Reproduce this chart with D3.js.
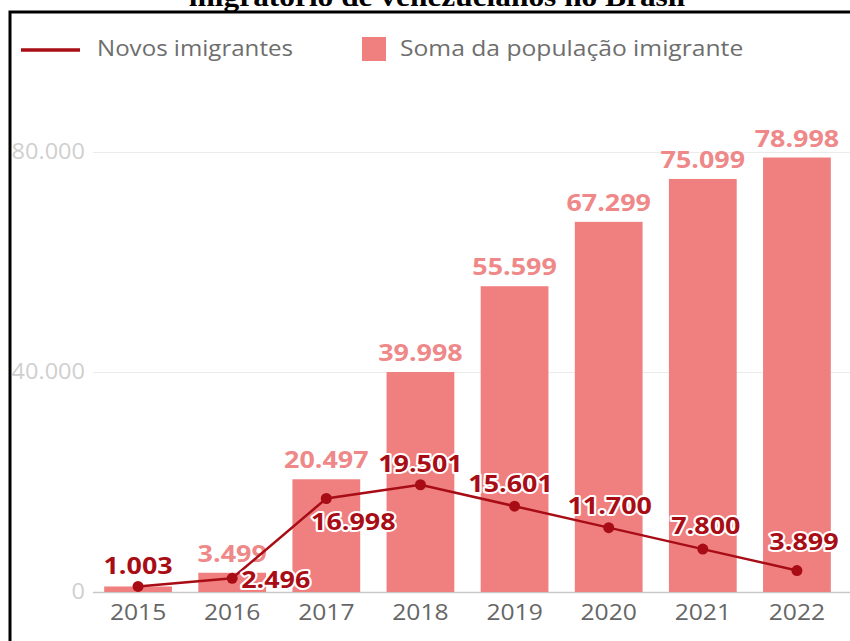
<!DOCTYPE html>
<html lang="pt">
<head>
  <meta charset="UTF-8">
  <title>Fluxo migratório de venezuelanos no Brasil</title>
  <script src="https://d3js.org/d3.v7.min.js"></script>
  <style>
    html, body { margin: 0; padding: 0; background: #fff; }
    svg { display: block; font-family: "Open Sans", sans-serif; }
    .title { font-family: "Liberation Serif", "Times New Roman", serif; font-weight: bold; }
    .halo { paint-order: stroke; stroke: #fff; stroke-width: 4px; stroke-linejoin: round; }
  </style>
</head>
<body>
  <svg id="chart" width="850" height="641"></svg>

  <script>
    // data
    const years = ["2015", "2016", "2017", "2018", "2019", "2020", "2021", "2022"];
    const totalPop = [1003, 3499, 20497, 39998, 55599, 67299, 75099, 78998];
    const newImmigrants = [1003, 2496, 16998, 19501, 15601, 11700, 7800, 3899];
    const yTicks = [0, 40000, 80000];

    const svg = d3.select("#chart"),
          width = +svg.attr("width"),
          height = +svg.attr("height");

    const fmt = v => d3.format(",")(v).replace(/,/g, ".");

    const barColor = "#f08080",
          barLabelColor = "#ef8888",
          lineColor = "#a80d16";

    // the screenshot is a bit wider than tall, so widen the glyphs a little
    function stretch(sel, k = 1.12) {
      sel.each(function() {
        const len = this.getComputedTextLength();
        this.setAttribute("textLength", len * k);
        this.setAttribute("lengthAdjust", "spacingAndGlyphs");
      });
    }

    // scales
    const x = d3.scaleBand()
                .domain(years)
                .range([91, 844])
                .paddingInner(0.28)
                .paddingOuter(0.14);

    const y = d3.scaleLinear()
                .domain([0, 80000])
                .range([592, 152]);

    // title (cut off at the top like in the screenshot)
    svg.append("text")
       .attr("class", "title")
       .attr("x", 437)
       .attr("y", 6)
       .attr("text-anchor", "middle")
       .style("font-size", "28px")
       .text("migratório de venezuelanos no Brasil")
       .call(stretch);

    // frame
    svg.append("path")
       .attr("d", `M10,${height} V12 H${width}`)
       .attr("fill", "none")
       .attr("stroke", "#000")
       .attr("stroke-width", 3);

    // legend
    const legend = svg.append("g");
    legend.append("line")
          .attr("x1", 21).attr("x2", 80)
          .attr("y1", 50).attr("y2", 50)
          .attr("stroke", lineColor)
          .attr("stroke-width", 3.5);
    legend.append("text")
          .attr("x", 97).attr("y", 56)
          .attr("fill", "#6e6e6e")
          .style("font-size", "21.5px")
          .text("Novos imigrantes")
          .call(stretch);
    legend.append("rect")
          .attr("x", 362).attr("y", 37)
          .attr("width", 24).attr("height", 24)
          .attr("fill", barColor);
    legend.append("text")
          .attr("x", 400).attr("y", 56)
          .attr("fill", "#6e6e6e")
          .style("font-size", "22px")
          .text("Soma da população imigrante")
          .call(stretch);

    // y axis with gridlines
    const yAxis = svg.append("g")
       .attr("transform", "translate(93,0)")
       .call(d3.axisLeft(y).tickValues(yTicks).tickSize(-(width - 93)).tickPadding(8).tickFormat(fmt));
    yAxis.select(".domain").remove();
    yAxis.selectAll(".tick line")
         .attr("stroke", d => d === 0 ? "#c8c8c8" : "#ebebeb")
         .attr("stroke-width", d => d === 0 ? 1.5 : 1.2);
    yAxis.selectAll(".tick text")
         .attr("fill", "#cfcfcf")
         .style("font-family", "Open Sans, sans-serif")
         .style("font-size", "21px")
         .call(stretch);

    // x axis labels
    const xAxis = svg.append("g")
       .attr("transform", "translate(0,592)")
       .call(d3.axisBottom(x).tickSize(0).tickPadding(12));
    xAxis.select(".domain").remove();
    xAxis.selectAll(".tick text")
         .attr("fill", "#666")
         .style("font-family", "Open Sans, sans-serif")
         .style("font-size", "22px")
         .call(stretch);

    // bars
    const rows = years.map((yr, i) => ({ year: yr, total: totalPop[i], fresh: newImmigrants[i] }));

    svg.append("g").selectAll("rect")
       .data(rows)
       .enter().append("rect")
       .attr("x", d => x(d.year))
       .attr("y", d => y(d.total))
       .attr("width", x.bandwidth())
       .attr("height", d => y(0) - y(d.total))
       .attr("fill", barColor);

    // bar labels; where the line label sits on the same value it covers the bar label
    svg.append("g").selectAll("text")
       .data(rows.filter(d => d.total !== d.fresh))
       .enter().append("text")
       .attr("x", d => x(d.year) + x.bandwidth() / 2)
       .attr("y", d => y(d.total) - 11)
       .attr("text-anchor", "middle")
       .attr("fill", barLabelColor)
       .style("font-weight", "bold")
       .style("font-size", "24px")
       .text(d => fmt(d.total))
       .call(stretch);

    // line
    const cx = d => x(d.year) + x.bandwidth() / 2;
    const line = d3.line().x(cx).y(d => y(d.fresh));

    svg.append("path")
       .datum(rows)
       .attr("d", line)
       .attr("fill", "none")
       .attr("stroke", lineColor)
       .attr("stroke-width", 2.5);

    svg.append("g").selectAll("circle")
       .data(rows)
       .enter().append("circle")
       .attr("cx", cx)
       .attr("cy", d => y(d.fresh))
       .attr("r", 5.5)
       .attr("fill", lineColor);

    // label placement for the line values: dx, dy from the point
    const place = {
      "2015": [0, -12, "middle"],
      "2016": [9, 10, "start"],
      "2017": [27, 31, "middle"],
      "2018": [0, -13, "middle"],
      "2019": [-4, -14, "middle"],
      "2020": [1, -14, "middle"],
      "2021": [3, -15, "middle"],
      "2022": [7, -21, "middle"]
    };

    svg.append("g").selectAll("text")
       .data(rows)
       .enter().append("text")
       .attr("class", "halo")
       .attr("x", d => cx(d) + place[d.year][0])
       .attr("y", d => y(d.fresh) + place[d.year][1])
       .attr("text-anchor", d => place[d.year][2])
       .attr("fill", lineColor)
       .style("font-weight", "bold")
       .style("font-size", "24px")
       .text(d => fmt(d.fresh))
       .call(stretch);
  </script>
</body>
</html>
